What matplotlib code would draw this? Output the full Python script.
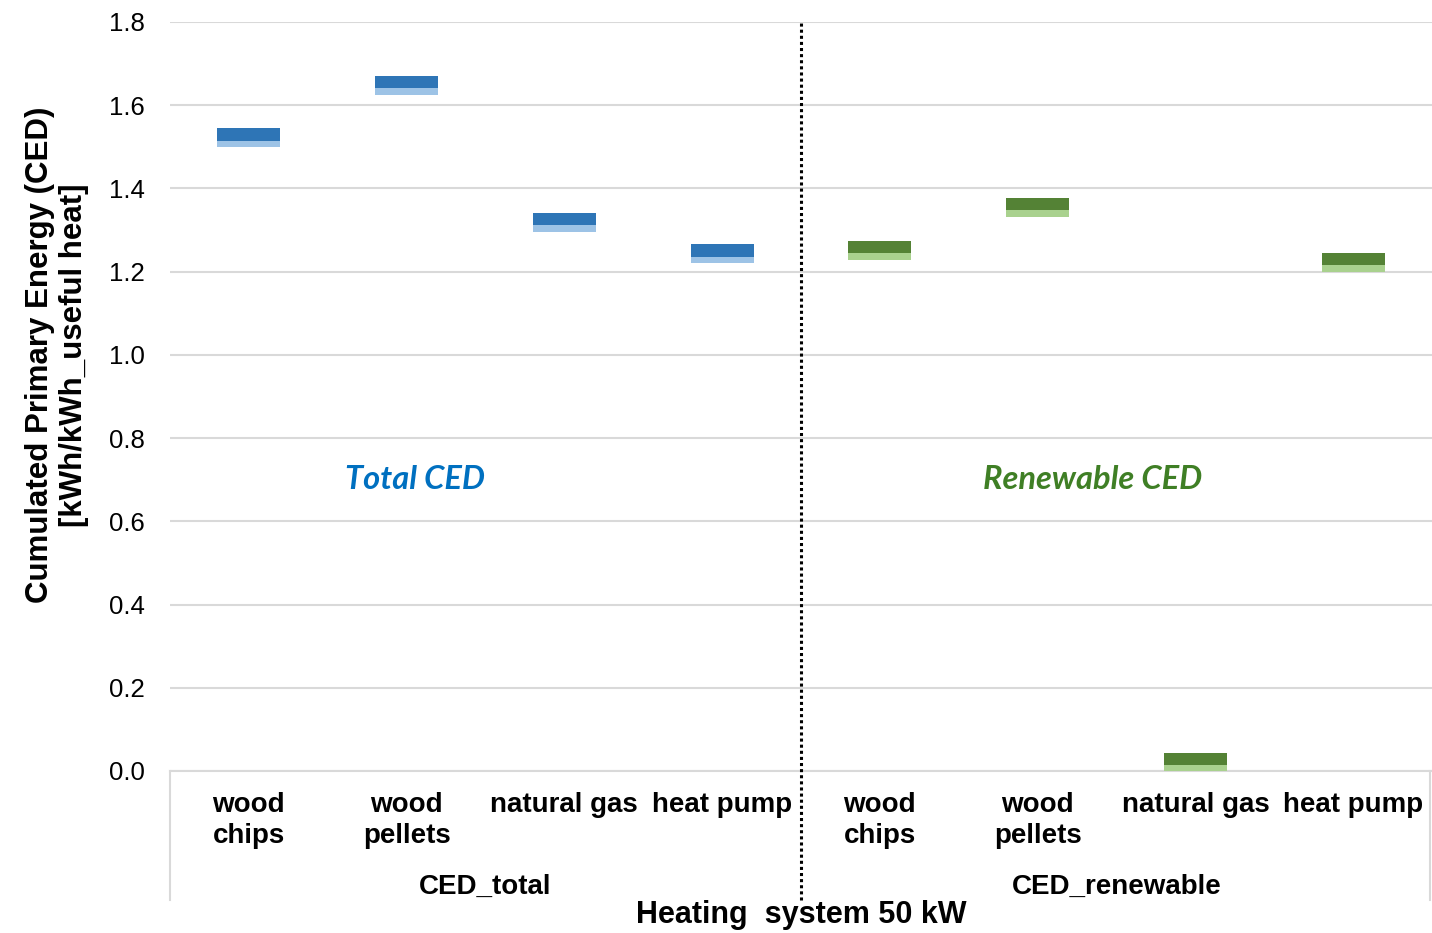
import matplotlib
matplotlib.use("Agg")
import matplotlib.pyplot as plt
import numpy as np

# CED range per heating system: lower bound, split point, upper bound
systems = ["wood\nchips", "wood\npellets", "natural gas", "heat pump"]
groups = ["CED_total", "CED_renewable"]
ced_low = [1.500, 1.625, 1.295, 1.220, 1.228, 1.332, 0.000, 1.200]
ced_mid = [1.515, 1.641, 1.311, 1.235, 1.245, 1.347, 0.014, 1.215]
ced_high = [1.545, 1.670, 1.340, 1.266, 1.274, 1.378, 0.043, 1.244]
yticks = [0.0, 0.2, 0.4, 0.6, 0.8, 1.0, 1.2, 1.4, 1.6, 1.8]

DARK = ["#2E75B6"] * 4 + ["#548235"] * 4
LIGHT = ["#9DC3E6"] * 4 + ["#A9D18E"] * 4
GRID = "#D9D9D9"

plt.rcParams["font.family"] = ["Liberation Sans", "DejaVu Sans"]

fig = plt.figure(figsize=(14.32, 9.33), dpi=100)
ax = fig.add_axes([170 / 1432, 1 - 771 / 933, 1 - 170 / 1432, 749 / 933])

x = np.arange(len(ced_low))
low = np.array(ced_low)
mid = np.array(ced_mid)
high = np.array(ced_high)
w = 0.40
ax.bar(x, mid - low, bottom=low, width=w, color=LIGHT, zorder=3)
ax.bar(x, high - mid, bottom=mid, width=w, color=DARK, zorder=3)

ax.set_xlim(-0.5, 7.5)
ax.set_ylim(0, 1.8)
ax.set_yticks(yticks)
ax.set_yticklabels([f"{v:.1f}" for v in yticks], fontsize=18.5)
ax.yaxis.grid(True, color=GRID, lw=1.5, zorder=0)
ax.tick_params(axis="y", length=0, pad=18)
for s in ["left", "right", "top"]:
    ax.spines[s].set_visible(False)
ax.spines["bottom"].set_color(GRID)
ax.spines["bottom"].set_linewidth(1.5)

ax.set_xticks(x)
ax.set_xticklabels(systems * 2, fontsize=20, fontweight="bold", linespacing=1.25)
ax.tick_params(axis="x", length=0, pad=15)

# group labels and the frame of the category axis
for i, g in enumerate(groups):
    ax.text(1.5 + 4 * i, -0.155, g, transform=ax.get_xaxis_transform(),
            ha="center", va="center", fontsize=20, fontweight="bold")
for xv in (-0.5, 7.49):
    ax.axvline(xv, ymin=-0.172, ymax=0, color=GRID, lw=1.5, clip_on=False)

# divider between the two CED blocks
ax.axvline(3.5, ymin=-0.172, ymax=1, color="black", lw=2.2,
           ls=(0, (1, 1)), clip_on=False, zorder=4)

ax.text(1.05, 0.70, "Total CED", ha="center", va="center", fontsize=23.5,
        fontweight="bold", style="italic", color="#0070C0", family="Lato")
ax.text(5.35, 0.70, "Renewable CED", ha="center", va="center", fontsize=23.5,
        fontweight="bold", style="italic", color="#3F7F25", family="Lato")

fig.text(57 / 1432, 1 - 355 / 933,
         "Cumulated Primary Energy (CED)\n[kWh/kWh_useful heat]",
         rotation=90, ha="center", va="center", multialignment="center",
         fontsize=22.5, fontweight="bold", linespacing=1.15)
fig.text(801 / 1432, 1 - 915 / 933, "Heating  system 50 kW",
         ha="center", va="center", fontsize=22, fontweight="bold")

fig.savefig("out.png", dpi=100)
